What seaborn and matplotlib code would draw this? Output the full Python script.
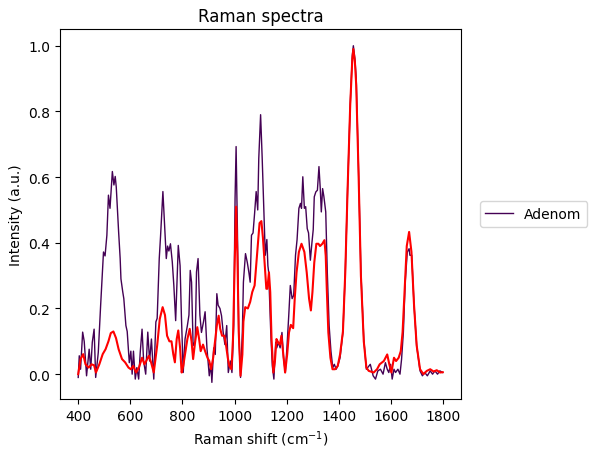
import numpy as np
import pandas as pd
import matplotlib
matplotlib.use("Agg")
import matplotlib.pyplot as plt
import seaborn as sns

# raw spectrum (Adenom)
raw_x = [400, 404, 409, 417, 423, 432, 442, 448, 454, 461, 467, 477, 486, 497, 503, 510, 516, 522, 531, 537,
         542, 546, 555, 561, 564, 571, 575, 583, 588, 596, 602, 607, 612, 619, 625, 632, 638, 645, 651, 659,
         667, 674, 681, 690, 698, 703, 711, 716, 725, 731, 738, 743, 748, 754, 761, 767, 774, 784, 791, 796,
         803, 810, 819, 825, 830, 835, 841, 849, 854, 860, 867, 873, 881, 887, 894, 903, 909, 913, 920, 926,
         932, 937, 944, 950, 956, 963, 970, 976, 984, 990, 997, 1002, 1006, 1011, 1016, 1023, 1030, 1034, 1042, 1049,
         1055, 1060, 1065, 1071, 1077, 1083, 1089, 1093, 1100, 1106, 1111, 1118, 1124, 1128, 1131, 1139, 1145, 1151, 1158, 1162,
         1168, 1175, 1182, 1188, 1195, 1201, 1208, 1214, 1221, 1227, 1234, 1240, 1247, 1253, 1257, 1262, 1268, 1273, 1279, 1284,
         1291, 1297, 1302, 1306, 1312, 1318, 1324, 1329, 1333, 1338, 1343, 1350, 1356, 1363, 1370, 1377, 1383, 1390, 1396, 1405,
         1416, 1425, 1434, 1444, 1452, 1456, 1462, 1467, 1476, 1485, 1496, 1506, 1521, 1532, 1541, 1550, 1560, 1570, 1579, 1586,
         1592, 1599, 1605, 1612, 1618, 1627, 1635, 1641, 1648, 1655, 1663, 1670, 1673, 1680, 1689, 1699, 1712, 1721, 1730, 1740,
         1751, 1760, 1769, 1779, 1788, 1799]
raw_y = [-0.01, 0.056, 0.015, 0.128, 0.10, -0.005, 0.076, 0.015, 0.097, 0.137, -0.01, 0.066, 0.209, 0.372, 0.36, 0.423, 0.545, 0.505, 0.617, 0.576,
         0.602, 0.57, 0.434, 0.352, 0.29, 0.25, 0.23, 0.148, 0.13, 0.035, 0.07, 0.0, 0.07, -0.015, 0.02, -0.015, 0.066, 0.137, 0.04, 0.0,
         0.128, 0.04, 0.107, -0.015, 0.159, 0.17, 0.352, 0.42, 0.556, 0.46, 0.352, 0.39, 0.375, 0.397, 0.342, 0.27, 0.163, 0.392, 0.33, 0.178,
         0.005, 0.107, 0.148, 0.18, 0.316, 0.28, 0.087, 0.1, 0.311, 0.352, 0.18, 0.127, 0.16, 0.19, 0.08, -0.005, 0.03, -0.025, 0.08, 0.06,
         0.245, 0.21, 0.2, 0.178, 0.13, 0.09, 0.148, 0.005, 0.04, 0.005, 0.15, 0.535, 0.693, 0.44, 0.13, -0.01, 0.13, 0.28, 0.367, 0.34,
         0.31, 0.28, 0.423, 0.43, 0.49, 0.556, 0.5, 0.657, 0.79, 0.66, 0.535, 0.362, 0.41, 0.33, 0.31, 0.127, 0.025, -0.015, 0.097, 0.08,
         0.097, 0.08, 0.127, 0.05, 0.005, 0.08, 0.178, 0.27, 0.23, 0.24, 0.362, 0.41, 0.505, 0.52, 0.505, 0.601, 0.505, 0.51, 0.443, 0.43,
         0.347, 0.4, 0.44, 0.54, 0.555, 0.56, 0.632, 0.565, 0.494, 0.565, 0.54, 0.494, 0.31, 0.148, 0.07, 0.02, 0.03, 0.015, 0.025, 0.05,
         0.128, 0.31, 0.566, 0.82, 0.97, 1.0, 0.96, 0.90, 0.617, 0.31, 0.107, 0.015, 0.03, -0.005, -0.015, 0.01, 0.015, 0.0, 0.035, 0.015,
         0.005, 0.03, -0.015, 0.015, 0.005, 0.015, 0.0, 0.045, 0.128, 0.28, 0.372, 0.382, 0.362, 0.362, 0.209, 0.087, 0.01, -0.005, 0.005, -0.005,
         0.01, 0.0, 0.01, 0.0, 0.01, 0.005]

# smoothed spectrum (red)
smooth_x = [400, 409, 419, 428, 440, 451, 461, 468, 481, 494, 505, 516, 525, 535, 545, 555, 568, 580, 593, 602,
            611, 622, 633, 645, 654, 661, 671, 680, 690, 703, 713, 724, 733, 741, 750, 758, 765, 771, 778, 784,
            791, 797, 803, 810, 819, 828, 835, 841, 849, 857, 864, 870, 879, 887, 896, 903, 910, 918, 926, 932,
            939, 945, 952, 961, 967, 974, 980, 988, 994, 1001, 1006, 1011, 1016, 1023, 1030, 1034, 1041, 1051, 1060, 1068,
            1077, 1083, 1090, 1096, 1103, 1109, 1116, 1122, 1126, 1132, 1137, 1142, 1149, 1155, 1161, 1167, 1174, 1180, 1187, 1194,
            1202, 1209, 1216, 1225, 1231, 1238, 1247, 1257, 1268, 1277, 1286, 1293, 1299, 1306, 1314, 1322, 1328, 1337, 1345, 1350,
            1354, 1360, 1368, 1376, 1386, 1396, 1405, 1416, 1425, 1434, 1444, 1452, 1456, 1462, 1467, 1476, 1485, 1496, 1506, 1515,
            1534, 1547, 1557, 1573, 1586, 1594, 1602, 1612, 1620, 1630, 1638, 1645, 1653, 1661, 1670, 1679, 1689, 1699, 1712, 1725,
            1738, 1751, 1764, 1776, 1789, 1799]
smooth_y = [0.0, 0.046, 0.061, 0.03, 0.02, 0.03, 0.027, 0.005, 0.03, 0.061, 0.076, 0.10, 0.125, 0.13, 0.11, 0.076, 0.046, 0.036, 0.02, 0.015,
            0.025, 0.005, 0.02, 0.05, 0.03, 0.04, 0.056, 0.035, 0.005, 0.087, 0.168, 0.204, 0.18, 0.117, 0.10, 0.10, 0.06, 0.036, 0.107, 0.133,
            0.08, 0.005, 0.025, 0.06, 0.107, 0.138, 0.10, 0.046, 0.10, 0.143, 0.107, 0.07, 0.09, 0.07, 0.05, 0.04, 0.015, 0.05, 0.107, 0.148,
            0.178, 0.138, 0.117, 0.117, 0.09, 0.05, 0.025, 0.015, 0.107, 0.352, 0.51, 0.36, 0.13, -0.005, 0.06, 0.16, 0.204, 0.2, 0.22, 0.25,
            0.27, 0.33, 0.40, 0.46, 0.466, 0.415, 0.33, 0.26, 0.26, 0.31, 0.25, 0.107, 0.005, 0.04, 0.107, 0.097, 0.09, 0.117, 0.06, 0.005,
            0.06, 0.127, 0.15, 0.14, 0.23, 0.31, 0.372, 0.397, 0.372, 0.31, 0.23, 0.194, 0.25, 0.34, 0.397, 0.397, 0.39, 0.397, 0.408, 0.36,
            0.26, 0.127, 0.05, 0.015, 0.015, 0.025, 0.06, 0.13, 0.31, 0.566, 0.82, 0.96, 0.99, 0.95, 0.88, 0.61, 0.30, 0.10, 0.02, 0.01,
            0.005, 0.015, 0.03, 0.04, 0.06, 0.03, 0.005, 0.05, 0.04, 0.05, 0.07, 0.128, 0.26, 0.39, 0.433, 0.372, 0.209, 0.087, 0.015, 0.0,
            0.01, 0.015, 0.008, 0.012, 0.005, 0.006]

raw = pd.DataFrame({'shift': raw_x, 'intensity': raw_y})
smooth = pd.DataFrame({'shift': smooth_x, 'intensity': smooth_y})

fig, ax = plt.subplots(figsize=(5.94, 4.6), dpi=100)
fig.subplots_adjust(left=0.101, right=0.776, top=0.935, bottom=0.13)

sns.lineplot(data=raw, x='shift', y='intensity', ax=ax, color='#440154',
             lw=1, label='Adenom', estimator=None, sort=False)
sns.lineplot(data=smooth, x='shift', y='intensity', ax=ax, color='red',
             lw=1.5, estimator=None, sort=False)

ax.set_title('Raman spectra')
ax.set_xlabel('Raman shift (cm$^{-1}$)')
ax.set_ylabel('Intensity (a.u.)')
ax.legend(loc='center left', bbox_to_anchor=(1.03, 0.5))

fig.savefig('out.png', dpi=100)
